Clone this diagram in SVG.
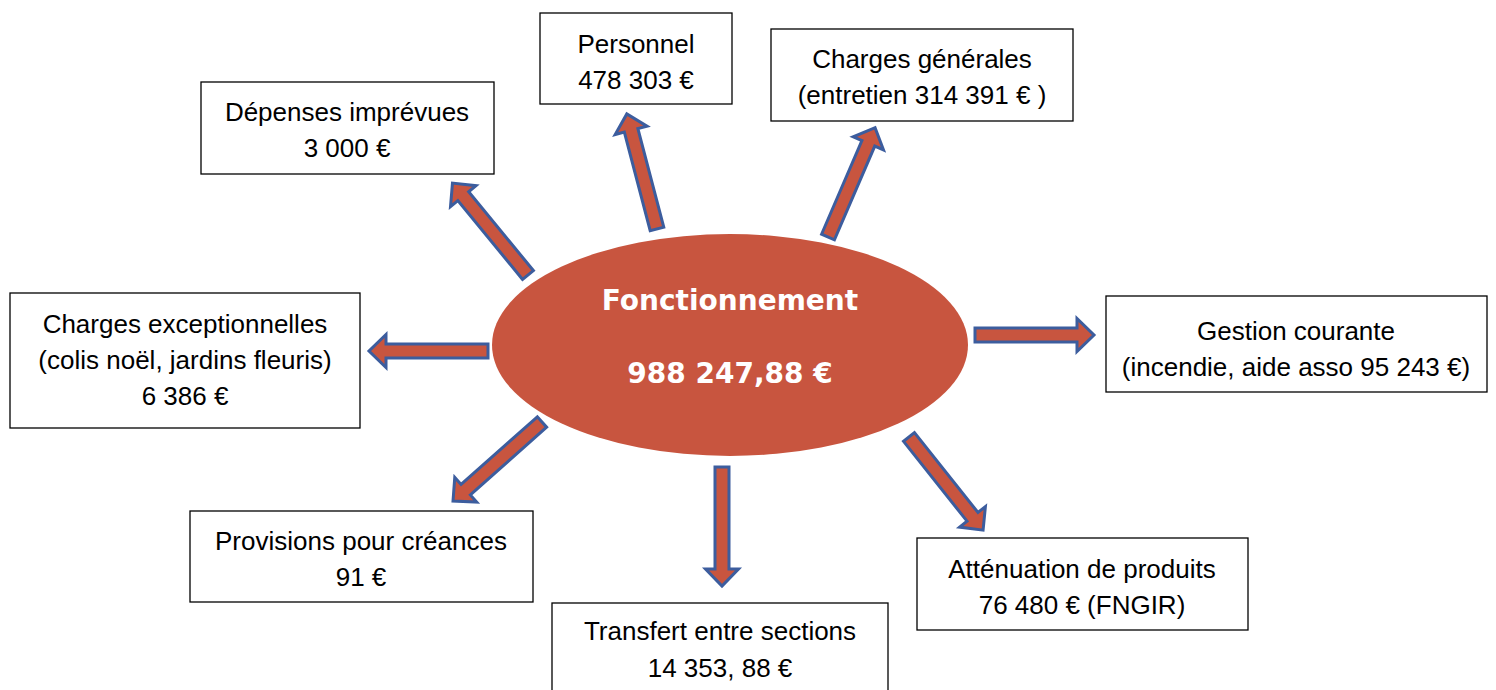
<svg xmlns="http://www.w3.org/2000/svg" xmlns:xlink="http://www.w3.org/1999/xlink" width="1496" height="690" viewBox="0 0 1496 690">
<style>
.box{fill:#ffffff;stroke:#000000;stroke-width:1.3}
.t{font-family:"Liberation Sans",Arial,sans-serif;font-size:26px;fill:#000000;text-anchor:middle}
.c{font-family:"DejaVu Sans",sans-serif;font-weight:bold;font-size:28px;fill:#ffffff;text-anchor:middle}
.arr{fill:#C8553F;stroke:#3C5D9E;stroke-width:3;stroke-linejoin:miter}
</style>
<defs>
<polygon id="arr" class="arr" points="0,-7 102,-7 102,-16.5 119,0 102,16.5 102,7 0,7"/>
</defs>
<rect width="1496" height="690" fill="#ffffff"/>
<g id="connectors">
<use xlink:href="#arr" href="#arr" transform="translate(488,351) rotate(180)"/>
<use xlink:href="#arr" href="#arr" transform="translate(657,229) rotate(-104.7)"/>
<use xlink:href="#arr" href="#arr" transform="translate(828,237) rotate(-66.7)"/>
<use xlink:href="#arr" href="#arr" transform="translate(528,275) rotate(-129.4)"/>
<use xlink:href="#arr" href="#arr" transform="translate(975,335) rotate(0)"/>
<use xlink:href="#arr" href="#arr" transform="translate(909,437) rotate(51.5)"/>
<use xlink:href="#arr" href="#arr" transform="translate(722,467) rotate(90)"/>
<use xlink:href="#arr" href="#arr" transform="translate(542,422) rotate(138.4)"/>
</g>
<g id="center">
<ellipse cx="730" cy="345" rx="238" ry="111" fill="#C8553F"/>
<text class="c" x="730" y="310">Fonctionnement</text>
<text class="c" x="730" y="383">988 247,88 €</text>
</g>
<g id="personnel">
<rect class="box" x="540" y="13" width="192" height="91"/>
<text class="t" x="636" y="53">Personnel</text>
<text class="t" x="636" y="89">478 303 €</text>
</g>
<g id="charges-generales">
<rect class="box" x="771" y="29" width="302" height="92"/>
<text class="t" x="922" y="68">Charges générales</text>
<text class="t" x="922" y="104">(entretien 314 391 € )</text>
</g>
<g id="depenses-imprevues">
<rect class="box" x="201" y="82" width="293" height="92"/>
<text class="t" x="347" y="121">Dépenses imprévues</text>
<text class="t" x="347" y="157">3 000 €</text>
</g>
<g id="charges-exceptionnelles">
<rect class="box" x="10" y="293" width="350" height="135"/>
<text class="t" x="185" y="333">Charges exceptionnelles</text>
<text class="t" x="185" y="369">(colis noël, jardins fleuris)</text>
<text class="t" x="185" y="405">6 386 €</text>
</g>
<g id="gestion-courante">
<rect class="box" x="1106" y="296" width="381" height="96"/>
<text class="t" x="1296" y="340">Gestion courante</text>
<text class="t" x="1296" y="376">(incendie, aide asso 95 243 €)</text>
</g>
<g id="provisions">
<rect class="box" x="190" y="511" width="343" height="91"/>
<text class="t" x="361" y="550">Provisions pour créances</text>
<text class="t" x="361" y="586">91 €</text>
</g>
<g id="transfert">
<rect class="box" x="552" y="603" width="336" height="100"/>
<text class="t" x="720" y="640">Transfert entre sections</text>
<text class="t" x="720" y="677">14 353, 88 €</text>
</g>
<g id="attenuation">
<rect class="box" x="917" y="538" width="331" height="92"/>
<text class="t" x="1082" y="578">Atténuation de produits</text>
<text class="t" x="1082" y="614">76 480 € (FNGIR)</text>
</g>
</svg>
